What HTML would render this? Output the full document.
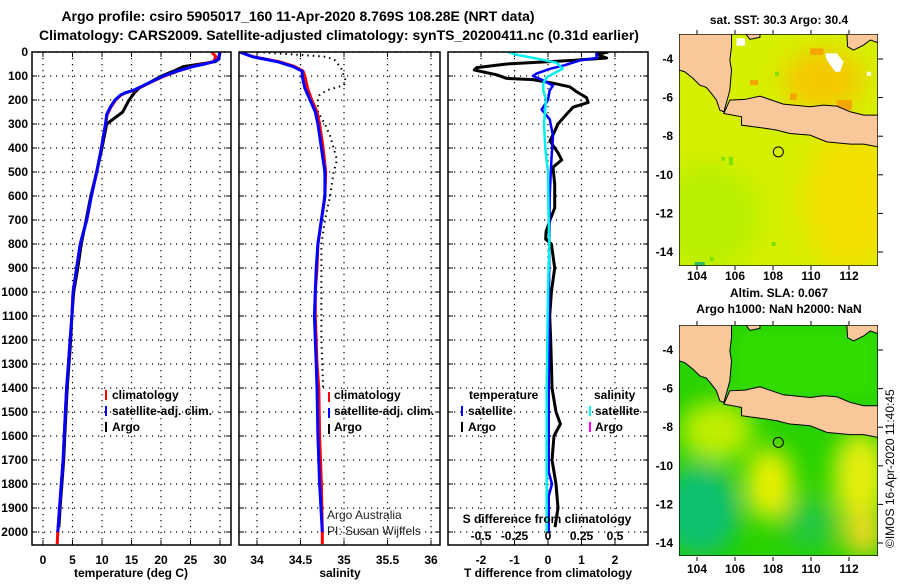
<!DOCTYPE html>
<html><head><meta charset="utf-8"><style>
body{margin:0;background:#fff;width:900px;height:580px;overflow:hidden;font-family:"Liberation Sans",sans-serif}
svg text{font-family:"Liberation Sans",sans-serif}
</style></head><body>
<svg id="chart" width="900" height="580" viewBox="0 0 900 580" xmlns="http://www.w3.org/2000/svg">
<defs>
<clipPath id="c1"><rect x="32" y="52" width="199" height="493"/></clipPath>
<clipPath id="c2"><rect x="239" y="52" width="201" height="493"/></clipPath>
<clipPath id="c3"><rect x="448" y="52" width="200" height="493"/></clipPath>
<filter id="bl" x="-50%" y="-50%" width="200%" height="200%"><feGaussianBlur stdDeviation="35"/></filter>
<filter id="bl2" x="-50%" y="-50%" width="200%" height="200%"><feGaussianBlur stdDeviation="18"/></filter>
</defs>
<g font-weight="bold" font-size="14" text-anchor="middle">
<text x="298" y="21">Argo profile: csiro 5905017_160 11-Apr-2020 8.769S 108.28E (NRT data)</text>
<text x="339" y="40">Climatology: CARS2009. Satellite-adjusted climatology: synTS_20200411.nc (0.31d earlier)</text>
</g>
<g id="grid"></g>
<g id="yticks" font-weight="bold" font-size="12" text-anchor="end"></g>
<g id="xticks" font-weight="bold" font-size="12" text-anchor="middle"></g>
<g id="series"></g>
<g fill="none" stroke="#000" stroke-width="1.5">
<rect x="32" y="52" width="199" height="493"/>
<rect x="239" y="52" width="201" height="493"/>
<rect x="448" y="52" width="200" height="493"/>
</g>
<g font-weight="bold" font-size="12" text-anchor="middle">
<text x="131" y="577">temperature (deg C)</text>
<text x="340" y="577">salinity</text>
<text x="548" y="577">T difference from climatology</text>
<text x="547" y="523">S difference from climatology</text>
</g>
<g id="sdticks" font-weight="bold" font-size="12" text-anchor="middle"></g>
<g font-weight="bold" font-size="12">
<rect x="105" y="390" width="2" height="10" fill="#f00"/><text x="112" y="399">climatology</text>
<rect x="105" y="406" width="2" height="10" fill="#00f"/><text x="112" y="415">satellite-adj. clim.</text>
<rect x="105" y="422" width="2" height="10" fill="#000"/><text x="112" y="431">Argo</text>
</g>
<g font-weight="bold" font-size="12">
<rect x="328" y="392" width="2" height="10" fill="#f00"/><text x="334" y="399">climatology</text>
<rect x="328" y="408" width="2" height="10" fill="#00f"/><text x="334" y="415">satellite-adj. clim.</text>
<rect x="328" y="424" width="2" height="10" fill="#000"/><text x="334" y="431">Argo</text>
</g>
<g font-weight="bold" font-size="12">
<text x="469" y="399">temperature</text><text x="594" y="399">salinity</text>
<rect x="461" y="406" width="2" height="10" fill="#00f"/><text x="468" y="415">satellite</text>
<rect x="461" y="422" width="2" height="10" fill="#000"/><text x="468" y="431">Argo</text>
<rect x="589" y="406" width="2" height="10" fill="#0ff"/><text x="595" y="415">satellite</text>
<rect x="589" y="422" width="2" height="10" fill="#f0f"/><text x="595" y="431">Argo</text>
</g>
<g font-size="12" fill="#222">
<text x="327" y="519">Argo Australia</text>
<text x="327" y="535">PI: Susan Wijffels</text>
</g>

<!-- maps -->
<text x="779" y="24" font-weight="bold" font-size="12" text-anchor="middle">sat. SST: 30.3 Argo: 30.4</text>
<svg x="679" y="34" width="199" height="232" viewBox="88 102 595 695" preserveAspectRatio="none">
<rect x="88" y="102" width="595" height="695" fill="#d6ef00"/>
<g filter="url(#bl)">
<ellipse cx="170" cy="650" rx="160" ry="160" fill="#b8f000"/>
<ellipse cx="600" cy="600" rx="140" ry="220" fill="#f2e000"/>
<ellipse cx="520" cy="240" rx="120" ry="90" fill="#f5c800"/>
</g>
<g fill="#f5a500">
<rect x="480" y="145" width="40" height="20"/><rect x="560" y="300" width="45" height="30"/><rect x="640" y="360" width="43" height="30"/><rect x="300" y="240" width="25" height="15"/><rect x="420" y="280" width="20" height="20"/>
</g>
<g fill="#7ee000"><rect x="375" y="215" width="12" height="12"/><rect x="215" y="470" width="10" height="12"/><rect x="237" y="470" width="12" height="25"/><rect x="365" y="725" width="12" height="12"/><rect x="180" y="770" width="12" height="12"/><rect x="135" y="785" width="30" height="12" fill="#30c060"/></g>
<g fill="#fff"><polygon points="525,160 560,160 580,185 570,215 555,215 530,180"/><rect x="650" y="215" width="12" height="12"/><rect x="260" y="115" width="25" height="22"/></g>
<g id="land1" fill="#f9c89a" stroke="#000" stroke-width="3">
<polygon points="88,102 245,102 245,140 240,180 245,210 240,270 232,300 222,335 210,330 200,300 185,280 170,262 150,255 130,235 105,215 88,210"/>
<polygon points="222,340 240,300 285,298 330,288 400,312 480,320 520,315 560,318 600,335 640,345 683,345 683,440 640,432 600,432 530,425 480,405 420,400 380,390 350,385 275,375 275,350"/>
<polygon points="590,102 683,102 683,128 660,120 640,135 610,150 592,140"/>
<polygon points="288,102 330,102 330,112 300,118"/>
</g>
<circle cx="385" cy="455" r="15" fill="none" stroke="#000" stroke-width="3"/>
<rect x="88" y="102" width="595" height="695" fill="none" stroke="#000" stroke-width="4"/>
</svg>

<text x="779" y="297" font-weight="bold" font-size="12" text-anchor="middle">Altim. SLA: 0.067</text>
<text x="779" y="313" font-weight="bold" font-size="12" text-anchor="middle">Argo h1000: NaN h2000: NaN</text>
<svg x="679" y="325" width="199" height="231" viewBox="88 102 595 695" preserveAspectRatio="none">
<rect x="88" y="102" width="595" height="695" fill="#28d200"/>
<g filter="url(#bl)">
<ellipse cx="200" cy="420" rx="110" ry="90" fill="#c0ee00"/>
<ellipse cx="360" cy="580" rx="70" ry="110" fill="#eaf000"/>
<ellipse cx="630" cy="560" rx="80" ry="140" fill="#e6ee10"/>
<ellipse cx="640" cy="730" rx="60" ry="70" fill="#f0d820"/>
<ellipse cx="150" cy="660" rx="120" ry="140" fill="#10c070"/>
<ellipse cx="480" cy="700" rx="80" ry="80" fill="#20c840"/>
</g>
<g filter="url(#bl2)"><rect x="260" y="120" width="420" height="200" fill="#30dc00"/></g>
<g fill="#f9c89a" stroke="#000" stroke-width="3">
<polygon points="88,102 245,102 245,140 240,180 245,210 240,270 232,300 222,335 210,330 200,300 185,280 170,262 150,255 130,235 105,215 88,210"/>
<polygon points="222,340 240,300 285,298 330,288 400,312 480,320 520,315 560,318 600,335 640,345 683,345 683,440 640,432 600,432 530,425 480,405 420,400 380,390 350,385 275,375 275,350"/>
<polygon points="590,102 683,102 683,128 660,120 640,135 610,150 592,140"/>
<polygon points="288,102 330,102 330,112 300,118"/>
</g>
<circle cx="385" cy="455" r="15" fill="none" stroke="#000" stroke-width="3"/>
<rect x="88" y="102" width="595" height="695" fill="none" stroke="#000" stroke-width="4"/>
</svg>
<g id="mapticks" font-weight="bold" font-size="12"></g>
<text transform="translate(894,548) rotate(-90)" font-size="12">©IMOS 16-Apr-2020 11:40:45</text>
</svg>
<script>
// ---- data ----
const tempSatDepth = [0,30,40,50,60,80,100,120,140,160,170,180,200,230,260,300,400,500,600,700,800,900,1000,1100,1200,1300,1400,1500,1600,1700,1800,1900,2000];
const tempSat = [30.0,29.7,29.0,27.4,25.5,22.7,20.4,18.7,17.0,15.3,13.9,13.1,12.2,11.4,10.8,10.6,9.9,9.1,8.2,7.4,6.3,5.7,5.1,4.9,4.6,4.3,4.0,3.8,3.6,3.4,3.1,2.8,2.5];
const tempClimDepth = [0,20,40,50,60,80,100,120,140,160,170,180,200,230,260,300,400,500,600,700,800,900,1000,1100,1200,1300,1400,1500,1600,1700,1800,1900,2000,2050];
const tempClim = [28.6,29.3,28.9,27.2,25.4,22.8,20.6,18.8,17.1,15.4,14.0,13.2,12.3,11.5,10.9,10.6,9.9,9.1,8.2,7.4,6.3,5.7,5.1,4.9,4.6,4.3,4.0,3.8,3.6,3.4,3.1,2.8,2.5,2.4];
const argoDepth = [0,30,40,50,61,80,100,120,150,170,200,250,300,400,500,600,700,800,900,1000,1100,1200,1300,1400,1500,1600,1700,1800,1900,1980];
const tempArgo = [30.0,29.8,29.2,26.7,23.8,22.1,20.1,18.6,16.3,15.5,14.6,13.5,10.8,10.0,9.1,8.1,7.3,6.5,5.9,5.2,4.9,4.7,4.4,4.1,3.9,3.7,3.5,3.2,2.9,2.7];
const salSatDepth = [0,20,40,60,80,100,150,200,250,300,400,500,600,700,800,900,1000,1100,1200,1300,1400,1600,1800,2000];
const salSat = [33.8,33.95,34.23,34.41,34.52,34.52,34.55,34.61,34.67,34.70,34.74,34.78,34.78,34.74,34.70,34.68,34.67,34.66,34.67,34.68,34.69,34.70,34.72,34.75];
const salClimDepth = [0,20,40,60,80,100,150,200,250,300,400,500,600,700,800,900,1000,1100,1200,1300,1400,1600,1800,2000,2050];
const salClim = [33.8,33.96,34.25,34.43,34.53,34.55,34.58,34.63,34.69,34.72,34.76,34.79,34.78,34.74,34.70,34.69,34.67,34.67,34.68,34.69,34.71,34.72,34.74,34.75,34.75];
const salArgoDepth = [0,5,12,20,35,50,70,100,120,138,160,179,200,250,300,350,400,450,500,600,700,800,900,1000,1100,1200,1300,1400];
const salArgo = [34.01,34.2,34.5,34.8,34.9,34.93,34.97,35.0,35.02,35.0,34.8,34.72,34.70,34.70,34.78,34.84,34.88,34.92,34.88,34.84,34.78,34.74,34.74,34.74,34.74,34.74,34.75,34.76];
const tDiffArgoDepth = [0,10,25,35,50,65,75,95,110,115,130,145,165,190,210,230,260,300,330,370,420,450,480,550,650,700,750,780,800,900,1000,1100,1200,1300,1400,1500,1550,1600,1700,1800,1900,1980];
const tDiffArgo = [1.8,1.45,1.75,0.75,-1.23,-2.13,-2.2,-1.53,-1.23,-0.45,0.15,0.65,0.85,1.15,1.2,0.75,0.55,0.3,0.2,0.06,0.3,0.41,0.15,0.2,0.2,0.06,-0.06,-0.07,0.1,0.2,0.1,0.05,0.08,0.1,0.12,0.24,0.37,0.18,0.12,0.24,0.3,0.21];
const tDiffSatDepth = [0,25,35,55,70,90,100,115,140,160,200,240,280,350,450,600,800,1000,1400,1750,1800,1850,2000];
const tDiffSat = [1.45,1.45,0.95,0.5,0.06,-0.34,-0.45,-0.19,0.15,0.05,0.0,-0.19,0.05,0.15,0.1,0.05,0.04,0.03,0.02,0.02,0.12,0.02,0.02];
const sDiffSatDepth = [0,12,30,45,70,90,105,130,160,200,300,400,500,700,800,1000,1400,2000];
const sDiffSat = [-0.30,-0.23,-0.06,0.065,0.11,0.04,-0.01,-0.035,-0.035,-0.015,-0.03,-0.02,0.0,0.005,0.01,0.0,-0.01,-0.01];
const depthTicks = [0,100,200,300,400,500,600,700,800,900,1000,1100,1200,1300,1400,1500,1600,1700,1800,1900,2000];
const tempTicks = [0,5,10,15,20,25,30];
const salTicks = [34,34.5,35,35.5,36];
const tDiffTicks = [-2,-1,0,1,2];
const sDiffTicks = [-0.5,-0.25,0,0.25,0.5];
const lonTicks = [104,106,108,110,112];
const latTicks = [-4,-6,-8,-10,-12,-14];

// ---- axes ----
const yD = d => 52 + d*0.24;
const xT = v => 43 + v*5.9;
const xS = v => 257 + (v-34)*87;
const xD = v => 548 + v*33.5;
const xSD = v => 548 + v*134;
const lonX = v => 697 + (v-104)*19;
const latY = v => 59 + (-4 - v)*19.3;

const NS='http://www.w3.org/2000/svg';
function mk(tag, attrs, parent){const e=document.createElementNS(NS,tag);for(const k in attrs)e.setAttribute(k,attrs[k]);parent.appendChild(e);return e;}
const grid=document.getElementById('grid');
const panels=[[32,231,tempTicks,xT],[239,440,salTicks,xS],[448,648,tDiffTicks,xD]];
panels.forEach(p=>{
  depthTicks.forEach(d=>{const l=mk('line',{x1:p[0],x2:p[1],y1:yD(d),y2:yD(d),stroke:'#000','stroke-width':1.2,'stroke-dasharray':'1.2,4.8'},grid);
    
    
    mk('line',{x1:p[0],x2:p[0]+5,y1:yD(d),y2:yD(d),stroke:'#000'},grid);
    mk('line',{x1:p[1]-5,x2:p[1],y1:yD(d),y2:yD(d),stroke:'#000'},grid);});
  p[2].forEach(v=>{const x=p[3](v);const l=mk('line',{x1:x,x2:x,y1:52,y2:545,stroke:'#000','stroke-width':1.2,'stroke-dasharray':'1.2,4.8'},grid);
    
    
    mk('line',{x1:x,x2:x,y1:540,y2:545,stroke:'#000'},grid);mk('line',{x1:x,x2:x,y1:52,y2:57,stroke:'#000'},grid);
    const t=mk('text',{x:x,y:564},document.getElementById('xticks'));t.textContent=String(v);
    
    });
});
depthTicks.forEach(d=>{const t=mk('text',{x:28,y:yD(d)+4},document.getElementById('yticks'));t.textContent=String(d);
  
  });
sDiffTicks.forEach(v=>{const t=mk('text',{x:xSD(v),y:540},document.getElementById('sdticks'));t.textContent=String(v);
  
  });

const ser=document.getElementById('series');
function line(depths, vals, fx, color, clip, name, dash, w){
  const pts=depths.map((d,i)=>fx(vals[i]).toFixed(1)+','+yD(d).toFixed(1)).join(' ');
  const e=mk('polyline',{points:pts,fill:'none',stroke:color,'stroke-width':w||3,'clip-path':'url(#'+clip+')','stroke-linejoin':'round'},ser);
  if(dash)e.setAttribute('stroke-dasharray',dash);
  
  
}
line(argoDepth,tempArgo,xT,'#000','c1','temperature-argo-line');
line(tempClimDepth,tempClim,xT,'#f00','c1','temperature-climatology-line');
line(tempSatDepth,tempSat,xT,'#00f','c1','temperature-satellite-line');
line(salArgoDepth,salArgo,xS,'#000','c2','salinity-argo-line','1.5,4',2);
line(salClimDepth,salClim,xS,'#f00','c2','salinity-climatology-line');
line(salSatDepth,salSat,xS,'#00f','c2','salinity-satellite-line');
line(tDiffArgoDepth,tDiffArgo,xD,'#000','c3','t-diff-argo-line');
line(tDiffSatDepth,tDiffSat,xD,'#00f','c3','t-diff-satellite-line',null,2.5);
line(sDiffSatDepth,sDiffSat,xSD,'#0ee','c3','s-diff-satellite-line',null,2.5);

const mt=document.getElementById('mapticks');
[0,291].forEach(off=>{
  lonTicks.forEach(v=>{const x=lonX(v);const t=mk('text',{x:x,y:280+off*1.0075,'text-anchor':'middle'},mt);t.textContent=String(v);
    
    
    mk('line',{x1:x,x2:x,y1:30+off,y2:34+off,stroke:'#000'},mt);mk('line',{x1:x,x2:x,y1:266+off,y2:270+off,stroke:'#000'},mt);});
  latTicks.forEach(v=>{const y=latY(v)+off;const t=mk('text',{x:673,y:y+4,'text-anchor':'end'},mt);t.textContent=String(v);
    
    
    mk('line',{x1:878,x2:883,y1:y,y2:y,stroke:'#000'},mt);});
});
</script>
</body></html>
